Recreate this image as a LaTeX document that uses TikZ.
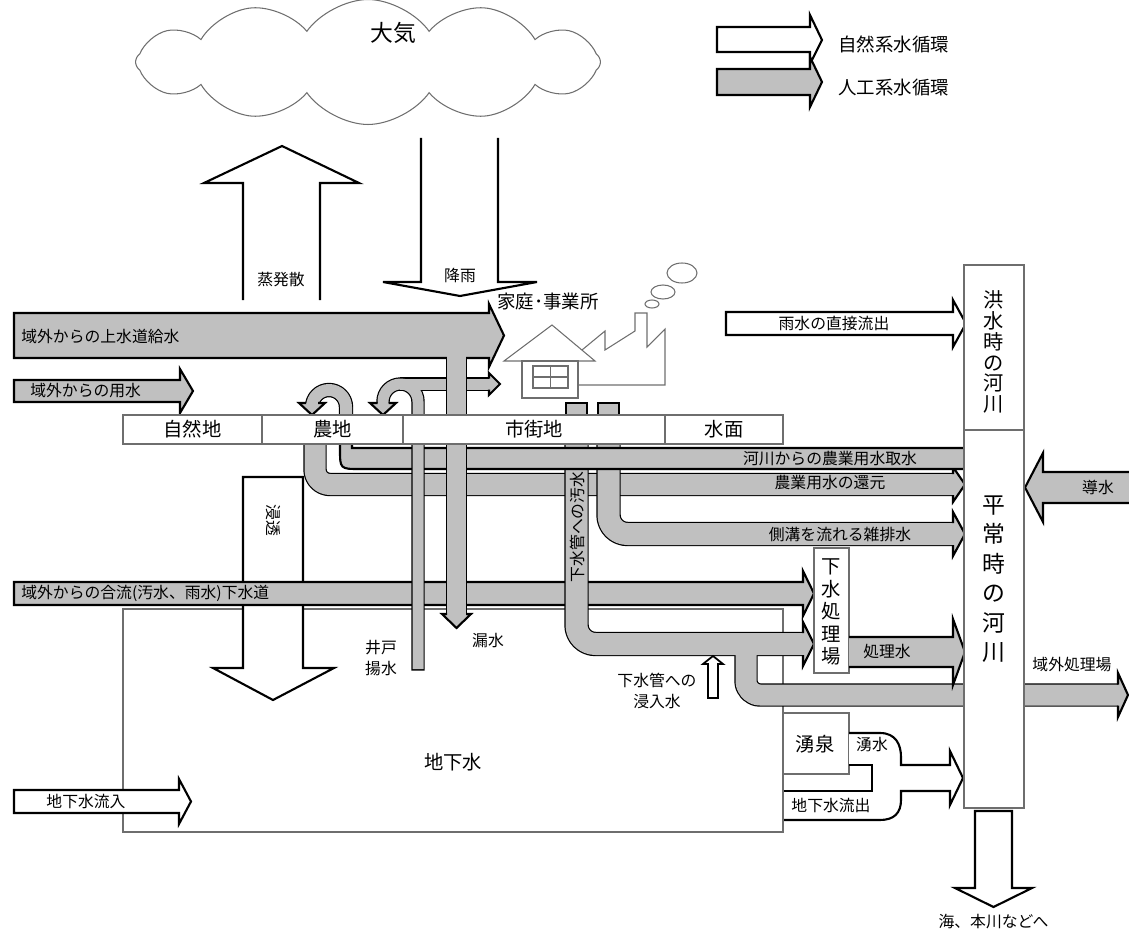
\documentclass[tikz,border=0pt]{standalone}
\usepackage{fontspec}
\setmainfont{Noto Sans CJK JP}
\usetikzlibrary{shapes.symbols}
\definecolor{pipegray}{RGB}{192,192,192}
\definecolor{boxline}{RGB}{110,110,110}
\newcommand{\pxl}{0.02cm}
\tikzset{
  natflow/.style={fill=white,draw=black,line width=1.2pt,line join=miter},
  artflow/.style={fill=pipegray,draw=black,line width=1.2pt,line join=miter},
  flowline/.style={draw=black,line width=1.2pt,line join=miter},
  pipeedge/.style={draw=black,line width={(#1+2.4)*\pxl},line cap=butt,line join=round},
  pipefill/.style={draw=pipegray,line width={#1*\pxl},line cap=butt,line join=round},
  areabox/.style={draw=boxline,line width=0.6pt,fill=white},
  landbox/.style={areabox,minimum height=0.58cm,inner sep=0pt,font=\fontsize{11}{13}\selectfont},
  sketch/.style={draw=boxline,line width=0.6pt},
  lbl/.style={font=\fontsize{9}{11}\selectfont,inner sep=0pt},
  midlbl/.style={font=\fontsize{10.5}{13}\selectfont,inner sep=0pt},
  biglbl/.style={font=\fontsize{11}{13}\selectfont,inner sep=0pt},
  stacklbl/.style 2 args={font=\fontsize{#1}{#2}\selectfont,align=center,inner sep=0pt},
}
\begin{document}
\begin{tikzpicture}[x=0.02cm,y=-0.02cm]
\useasboundingbox (0,0) rectangle (1129,939);

% atmosphere and legend
\node[cloud,cloud puffs=12,cloud puff arc=110,cloud ignores aspect,draw=boxline,line width=0.6pt,minimum width=9.3cm,minimum height=2.5cm] (air) at (368,62) {};
\node[font=\fontsize{13}{15}\selectfont,inner sep=0pt] (airlbl) at (393,33) {大気};
\draw[natflow] (717,27) -- (810,27) -- (810,15) -- (822,40) -- (810,64) -- (810,52) -- (717,52) -- cycle;
\node[midlbl,anchor=west] (natlegend) at (838,44) {自然系水循環};
\draw[artflow] (717,69) -- (810,69) -- (810,57) -- (822,82) -- (810,107) -- (810,95) -- (717,95) -- cycle;
\node[midlbl,anchor=west] (artlegend) at (838,88) {人工系水循環};

% evaporation and rain
\draw[natflow] (243,300) -- (243,183) -- (204,183) -- (282,146) -- (359,183) -- (320,183) -- (320,300);
\node[lbl] (evap) at (281,280) {蒸発散};
\draw[natflow] (421,138) -- (421,282) -- (383,282) -- (460,296) -- (537,282) -- (498,282) -- (498,138);
\node[lbl] (rain) at (460,275) {降雨};

% house and factory
\node[midlbl] (home) at (548,302) {家庭･事業所};
\draw[sketch] (504,361) -- (552,325) -- (595,361) -- cycle;
\draw[sketch] (522,361) rectangle (578,398);
\draw[sketch] (533,366) rectangle (568,388) (550.5,366) -- (550.5,388) (533,377) -- (568,377);
\draw[sketch] (582,350) -- (605,331) -- (605,350) -- (635,331) -- (635,313) -- (647,313) -- (647,347) -- (665,329) -- (665,385) -- (578,385);
\draw[sketch] (682,273) ellipse [x radius=15,y radius=10];
\draw[sketch] (663,292) ellipse [x radius=12,y radius=7];
\draw[sketch] (652,304) ellipse [x radius=7,y radius=4];

% supply from outside
\draw[artflow] (14,313) -- (489,313) -- (489,304) -- (504,335.5) -- (489,367) -- (489,358) -- (14,358) -- cycle;
\node[lbl,anchor=west] (supply) at (21,336) {域外からの上水道給水};
\draw[artflow] (14,380) -- (180,380) -- (180,369) -- (193,391) -- (180,413) -- (180,402) -- (14,402) -- cycle;
\node[lbl,anchor=west] (irrig) at (30,391) {域外からの用水};
\draw[natflow] (726,312) -- (953,312) -- (953,300) -- (966,323.5) -- (953,347) -- (953,335) -- (726,335) -- cycle;
\node[lbl] (runoff) at (834,323.5) {雨水の直接流出};
\draw[artflow] (1129,472) -- (1043,472) -- (1043,453) -- (1025,487.5) -- (1043,522) -- (1043,503) -- (1129,503);
\node[lbl] (transfer) at (1098,487.5) {導水};

% groundwater
\draw[areabox] (123,609) rectangle (783,832);
\node[biglbl] (gw) at (453,762) {地下水};
\draw[natflow] (14,790) -- (179,790) -- (179,779) -- (191,801.5) -- (179,824) -- (179,813) -- (14,813) -- cycle;
\node[lbl] (gwin) at (86,801.5) {地下水流入};
\draw[natflow] (243,477) -- (303,477) -- (303,668) -- (334,668) -- (273,700) -- (213,668) -- (243,668) -- cycle;
\node[lbl,rotate=-90] (perc) at (273,520) {浸透};

% return of farm water
\draw[pipeedge=21,rounded corners=15*\pxl] (315,425) -- (315,484.5) -- (953,484.5);
\draw[pipefill=21,rounded corners=15*\pxl] (315,425) -- (315,484.5) -- (953,484.5);
\draw[artflow] (953,474) -- (953,467) -- (965,484.5) -- (953,502) -- (953,495);
\node[lbl] (agreturn) at (830,483) {農業用水の還元};

% combined sewer from outside
\draw[artflow] (14,582) -- (803,582) -- (803,571) -- (814,593.5) -- (803,616) -- (803,605) -- (14,605) -- cycle;
\node[lbl,anchor=west] (combined) at (21,593.5) {域外からの合流(汚水、雨水)下水道};

% sewage pipe and its branch
\draw[artflow] (566,403) rectangle (587,425);
\draw[artflow] (598,403) rectangle (619,425);
\draw[pipeedge=22,rounded corners=19*\pxl] (576.5,424) -- (576.5,644) -- (803,644);
\draw[pipeedge=21,rounded corners=14*\pxl] (746,644) -- (746,695) -- (1118,695);
\draw[pipefill=22,rounded corners=19*\pxl] (576.5,424) -- (576.5,644) -- (803,644);
\draw[pipefill=21,rounded corners=14*\pxl] (746,644) -- (746,695) -- (1118,695);
\draw[artflow] (803,633) -- (803,622) -- (814,644) -- (803,666) -- (803,655);
\draw[artflow] (1118,684.5) -- (1118,673) -- (1128,695) -- (1118,717) -- (1118,705.5);
\node[lbl,rotate=90] (sewage) at (577,527) {下水管への汚水};
\node[lbl] (outplant) at (1072,665) {域外処理場};

% roadside ditch
\draw[pipeedge=22,rounded corners=19*\pxl] (608.5,424) -- (608.5,534) -- (953,534);
\draw[pipefill=22,rounded corners=19*\pxl] (608.5,424) -- (608.5,534) -- (953,534);
\draw[artflow] (953,523) -- (953,512) -- (965,534) -- (953,556) -- (953,545);
\node[lbl] (ditch) at (840,534) {側溝を流れる雑排水};

% intake from the river
\draw[artflow] (964,448) -- (352,448) -- (352,425) -- (340,425) -- (340,449) .. controls (340,469) .. (360,469) -- (964,469);
\draw[pipeedge=12,rounded corners=17*\pxl] (346,430) -- (346,390) -- (312,390) -- (312,407);
\draw[pipefill=12,rounded corners=17*\pxl] (346,430) -- (346,390) -- (312,390) -- (312,407);
\draw[artflow] (306,403) -- (299,403) -- (312,415) -- (325,403) -- (318,403);
\node[lbl] (intake) at (830,458.5) {河川からの農業用水取水};

% well pumping
\draw[pipeedge=11,rounded corners=17.5*\pxl] (418,670.5) -- (418,384) -- (383,384) -- (383,406);
\draw[pipeedge=11] (400,384) -- (489,384);
\draw[pipefill=11,rounded corners=17.5*\pxl] (418,669) -- (418,384) -- (383,384) -- (383,406);
\draw[pipefill=11] (400,384) -- (489,384);
\draw[artflow] (377.5,403) -- (370,403) -- (383,415) -- (396,403) -- (388.5,403);
\draw[artflow] (489,378.5) -- (489,373) -- (500,384) -- (489,395) -- (489,389.5);
\node[lbl,align=center,font=\fontsize{9}{12.5}\selectfont] (well) at (381,658) {井戸\\揚水};

% leakage
\draw[pipeedge=19] (456.5,359) -- (456.5,614);
\draw[pipefill=19] (456.5,356) -- (456.5,614);
\draw[artflow] (447,614) -- (442,614) -- (456.5,628) -- (471,614) -- (466,614);
\node[lbl] (leak) at (488,641) {漏水};

% land use
\node[landbox,minimum width=2.78cm] (natural) at (192.5,429.5) {自然地};
\node[landbox,minimum width=2.82cm] (farm) at (332.5,429.5) {農地};
\node[landbox,minimum width=5.24cm] (urban) at (534,429.5) {市街地};
\node[landbox,minimum width=2.36cm] (water) at (724,429.5) {水面};

% treatment plant, spring, infiltration
\draw[areabox] (814,548) rectangle (849,673);
\node[stacklbl={11}{12.8}] (plant) at (831.5,612) {下\\水\\処\\理\\場};
\draw[artflow] (849,637) -- (953,637) -- (953,619) -- (965,652) -- (953,685) -- (953,667) -- (849,667);
\node[lbl] (treated) at (887,652) {処理水};
\draw[natflow,line width=1pt] (708,698) -- (708,664) -- (703,664) -- (713,656) -- (723,664) -- (718,664) -- (718,698) -- cycle;
\node[lbl,align=center,font=\fontsize{9}{12}\selectfont] (inflow) at (657,691) {下水管への\\浸入水};
\draw[areabox] (783,713) rectangle (849,774);
\node[biglbl] (spring) at (815,744) {湧泉};
\fill[white] (849,733) -- (880,733) .. controls (896,733) and (901,745) .. (901,757) -- (901,765) -- (950,765) -- (950,751) -- (963,778) -- (950,805) -- (950,791) -- (901,791) -- (901,800) .. controls (901,813) and (894,820) .. (880,820) -- (784,820) -- (784,791) -- (872,791) -- (872,765) -- (849,765) -- cycle;
\draw[flowline] (849,733) -- (880,733) .. controls (896,733) and (901,745) .. (901,757) -- (901,765) -- (950,765) -- (950,751) -- (963,778) -- (950,805) -- (950,791) -- (901,791) -- (901,800) .. controls (901,813) and (894,820) .. (880,820) -- (784,820);
\draw[flowline] (849,765) -- (872,765) -- (872,791) -- (784,791);
\node[lbl] (springflow) at (872,745) {湧水};
\node[lbl] (gwout) at (831,805.5) {地下水流出};

% river
\draw[areabox] (964,265) rectangle (1024,430);
\node[stacklbl={11.5}{11.9}] (flood) at (994,352) {洪\\水\\時\\の\\河\\川};
\draw[areabox] (964,430) rectangle (1024,808);
\node[stacklbl={13}{16.8}] (normal) at (994,579) {平\\常\\時\\の\\河\\川};
\draw[natflow] (975,811) -- (975,888) -- (955,888) -- (993.5,907) -- (1032,888) -- (1012,888) -- (1012,811) -- cycle;
\node[lbl] (sea) at (993.5,922) {海、本川などへ};
\end{tikzpicture}
\end{document}
